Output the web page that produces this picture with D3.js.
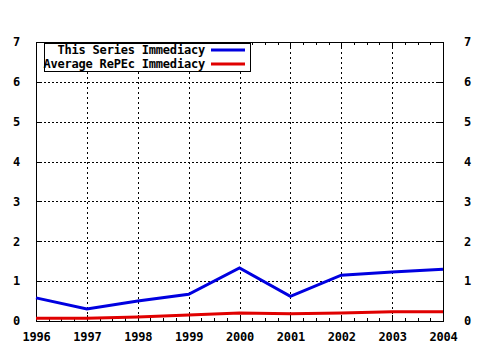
<!DOCTYPE html>
<html>
<head>
<meta charset="utf-8">
<script src="https://cdn.jsdelivr.net/npm/d3@7"></script>
<style>
  html, body { margin: 0; padding: 0; background: #fff; }
  svg { display: block; }
  text { font-family: "DejaVu Sans Mono", "Liberation Mono", monospace; font-weight: bold; font-size: 12px; letter-spacing: -0.2px; fill: #000; }
</style>
</head>
<body>
<svg id="chart" width="480" height="350"></svg>
<script>
// Immediacy per year, 1996-2004
const years = [1996, 1997, 1998, 1999, 2000, 2001, 2002, 2003, 2004];
const seriesImmediacy = [0.58, 0.30, 0.50, 0.67, 1.33, 0.62, 1.15, 1.23, 1.30];
const averageImmediacy = [0.07, 0.07, 0.10, 0.15, 0.20, 0.18, 0.20, 0.23, 0.23];
const seriesNames = ["This Series Immediacy", "Average RePEc Immediacy"];
const seriesColors = ["#0000e0", "#e00000"];
const yTicks = [0, 1, 2, 3, 4, 5, 6, 7];

const svg = d3.select("#chart");
const plotLeft = 36, plotRight = 443, plotTop = 42, plotBottom = 321;

const x = d3.scaleLinear().domain([1996, 2004]).range([plotLeft, plotRight]);
const y = d3.scaleLinear().domain([0, 7]).range([plotBottom, plotTop]);

// dotted grid
const grid = svg.append("g").attr("stroke", "#000").attr("stroke-width", 1)
  .attr("shape-rendering", "crispEdges");
grid.selectAll("line.v").data(years.slice(1, -1)).join("line")
  .attr("stroke-dasharray", "2,3")
  .attr("x1", d => Math.round(x(d)) + 0.5).attr("x2", d => Math.round(x(d)) + 0.5)
  .attr("y1", plotTop).attr("y2", plotBottom);
grid.selectAll("line.h").data(yTicks.slice(1, -1)).join("line")
  .attr("stroke-dasharray", "2,2")
  .attr("y1", d => Math.round(y(d)) + 0.5).attr("y2", d => Math.round(y(d)) + 0.5)
  .attr("x1", plotLeft).attr("x2", plotRight);

// axes: ticks pointing inward, mirrored on opposite sides
const minorYears = d3.range(1996, 2004.001, 0.25).filter(v => !years.includes(v));
const axisBottom = d3.axisBottom(x).tickValues(years).tickFormat(d3.format("d")).tickSizeInner(-6).tickSizeOuter(0).tickPadding(11);
const axisTop = d3.axisTop(x).tickValues(years).tickFormat("").tickSizeInner(-6).tickSizeOuter(0);
const minorBottom = d3.axisBottom(x).tickValues(minorYears).tickFormat("").tickSizeInner(-3).tickSizeOuter(0);
const minorTop = d3.axisTop(x).tickValues(minorYears).tickFormat("").tickSizeInner(-3).tickSizeOuter(0);
const axisLeft = d3.axisLeft(y).tickValues(yTicks).tickFormat(d3.format("d")).tickSizeInner(-6).tickSizeOuter(0).tickPadding(16);
const axisRight = d3.axisRight(y).tickValues(yTicks).tickFormat(d3.format("d")).tickSizeInner(-6).tickSizeOuter(0).tickPadding(21);

function styleAxis(g) {
  g.attr("shape-rendering", "crispEdges");
  g.select(".domain").remove();
  g.selectAll("line").attr("stroke", "#000");
  g.selectAll("text").attr("font-family", null).attr("font-size", null).attr("fill", "#000");
}
svg.append("g").attr("transform", `translate(0,${plotBottom})`).call(axisBottom).call(styleAxis);
svg.append("g").attr("transform", `translate(0,${plotTop})`).call(axisTop).call(styleAxis);
svg.append("g").attr("transform", `translate(0,${plotBottom})`).call(minorBottom).call(styleAxis);
svg.append("g").attr("transform", `translate(0,${plotTop})`).call(minorTop).call(styleAxis);
svg.append("g").attr("transform", `translate(${plotLeft},0)`).call(axisLeft).call(styleAxis);
svg.append("g").attr("transform", `translate(${plotRight},0)`).call(axisRight).call(styleAxis)
  .selectAll("text").attr("text-anchor", "start");

// frame
svg.append("rect").attr("x", plotLeft + 0.5).attr("y", plotTop + 0.5)
  .attr("width", plotRight - plotLeft).attr("height", plotBottom - plotTop)
  .attr("fill", "none").attr("stroke", "#000").attr("shape-rendering", "crispEdges");

// data lines
const line = d3.line().x((d, i) => x(years[i])).y(d => y(d));
[seriesImmediacy, averageImmediacy].forEach((vals, k) => {
  svg.append("path").datum(vals).attr("d", line)
    .attr("fill", "none").attr("stroke", seriesColors[k]).attr("stroke-width", 3);
});

// legend
const lg = svg.append("g");
lg.append("rect").attr("x", 44.5).attr("y", 43.5).attr("width", 206).attr("height", 28)
  .attr("fill", "#fff").attr("stroke", "#000").attr("shape-rendering", "crispEdges");
seriesNames.forEach((name, k) => {
  const ly = 50 + k * 14;
  lg.append("text").attr("x", 205).attr("y", ly).attr("dy", "0.35em")
    .attr("text-anchor", "end").text(name);
  lg.append("line").attr("x1", 211).attr("x2", 245).attr("y1", ly).attr("y2", ly)
    .attr("stroke", seriesColors[k]).attr("stroke-width", 3);
});
</script>
</body>
</html>
